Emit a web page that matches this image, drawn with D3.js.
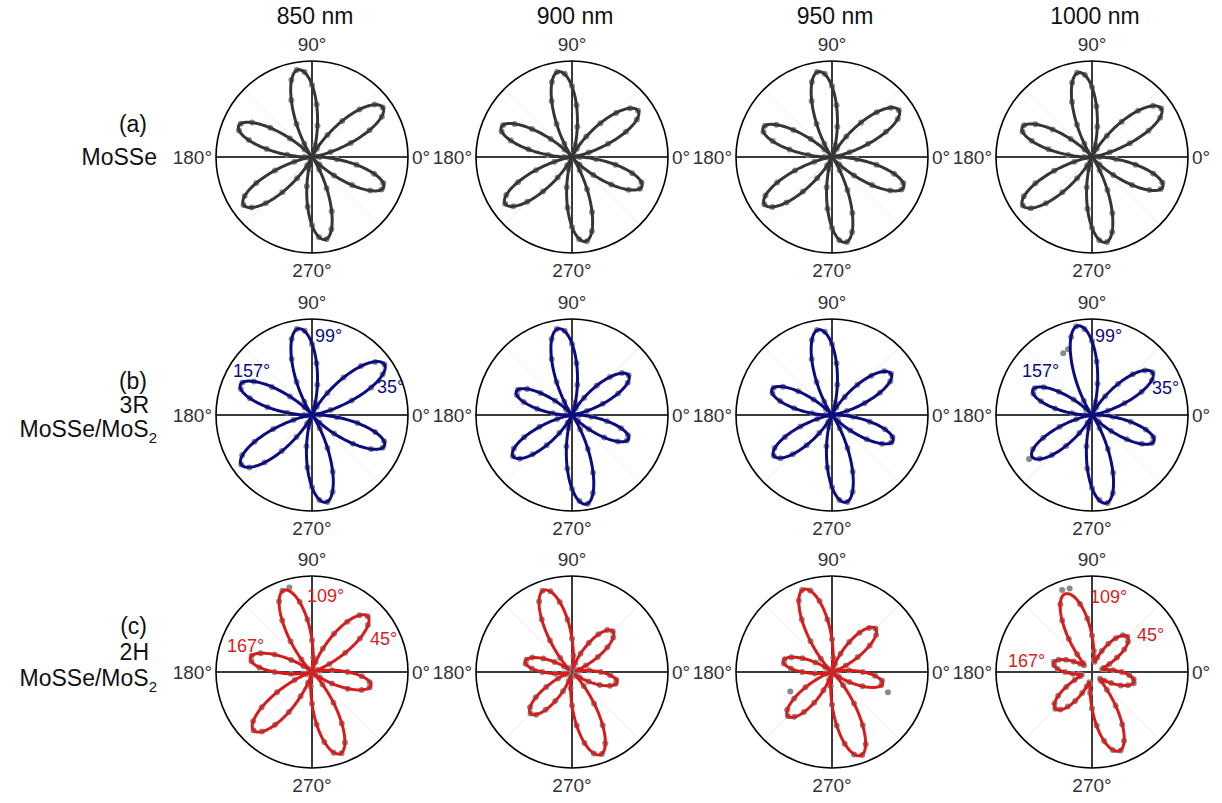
<!DOCTYPE html>
<html>
<head>
<meta charset="utf-8">
<script src="https://cdn.jsdelivr.net/npm/d3@7"></script>
<style>
  body { margin: 0; background: #fff; }
  svg { display: block; }
  text { font-family: "Liberation Sans", Arial, Helvetica, sans-serif; }
</style>
</head>
<body>
<svg id="chart" width="1222" height="803"></svg>
<script>
// ---- data ---------------------------------------------------------------
const wavelengths = ["850 nm", "900 nm", "950 nm", "1000 nm"];
const angleTicks = [0, 90, 180, 270];
const gridAngles = [45, 135, 225, 315];
const sampleAngles = d3.range(0, 360, 5);          // polarizer angle of each measured point (deg)

// fitted petal directions (deg) for each sample
const petalAnglesMoSSe = [35, 99, 157, 215, 279, 337];
const petalAngles3R    = [35, 99, 157, 215, 279, 337];
const petalAngles2H    = [45, 109, 167, 225, 289, 347];

// fitted petal lengths (normalised SHG intensity), one row per wavelength
const petalLengthsMoSSe = [
  [0.90, 0.92, 0.83, 0.87, 0.87, 0.81],
  [0.84, 0.90, 0.80, 0.85, 0.89, 0.79],
  [0.85, 0.90, 0.78, 0.86, 0.90, 0.81],
  [0.88, 0.89, 0.79, 0.88, 0.90, 0.80]
];
const petalLengths3R = [
  [0.92, 0.91, 0.81, 0.90, 0.92, 0.82],
  [0.72, 0.91, 0.63, 0.75, 0.94, 0.64],
  [0.75, 0.90, 0.68, 0.74, 0.92, 0.69],
  [0.77, 0.94, 0.67, 0.76, 0.93, 0.70]
];
const petalLengths2H = [
  [0.82, 0.90, 0.66, 0.86, 0.90, 0.63],
  [0.60, 0.90, 0.50, 0.61, 0.91, 0.48],
  [0.64, 0.91, 0.52, 0.65, 0.92, 0.54],
  [0.52, 0.86, 0.41, 0.54, 0.87, 0.45]
];
// residual intensity between petals
const floorMoSSe = [0, 0, 0, 0];
const floor3R    = [0, 0, 0, 0];
const floor2H    = [0.02, 0.04, 0.02, 0.11];

// measured SHG intensity at each polarizer angle
const dotsMoSSe850 = [.08,.00,
  .04,.20,.43,.66,.84,.90,.85,.70,.49,.28,.10,.01,
  .02,.13,.33,.55,.75,.89,.92,.83,.63,.38,.16,.02,
  .01,.11,.30,.53,.72,.82,.81,.68,.48,.26,.08,.00,
  .04,.19,.41,.64,.81,.87,.82,.68,.48,.27,.10,.01,
  .02,.13,.31,.52,.71,.84,.87,.78,.60,.36,.15,.02,
  .01,.11,.30,.51,.70,.80,.79,.67,.47,.26];
const dotsMoSSe900 = [.08,.00,
  .04,.18,.40,.62,.78,.84,.79,.65,.46,.26,.10,.01,
  .02,.13,.32,.54,.74,.87,.90,.81,.62,.38,.16,.02,
  .01,.11,.29,.51,.69,.79,.78,.66,.46,.25,.08,.00,
  .04,.19,.40,.62,.79,.85,.80,.66,.47,.26,.10,.01,
  .02,.13,.32,.53,.73,.86,.89,.80,.61,.37,.16,.02,
  .01,.11,.29,.50,.68,.78,.77,.65,.46,.25];
const dotsMoSSe950 = [.08,.00,
  .04,.19,.40,.62,.79,.85,.80,.66,.47,.26,.10,.01,
  .02,.13,.32,.54,.74,.87,.90,.81,.62,.38,.16,.02,
  .01,.11,.29,.49,.67,.77,.76,.64,.45,.25,.08,.00,
  .04,.19,.41,.63,.80,.86,.81,.67,.47,.27,.10,.01,
  .02,.13,.32,.54,.74,.87,.90,.81,.62,.38,.16,.02,
  .01,.11,.30,.51,.70,.80,.79,.67,.47,.26];
const dotsMoSSe1000 = [.08,.00,
  .04,.19,.42,.65,.82,.88,.83,.68,.48,.27,.10,.01,
  .02,.13,.32,.53,.73,.86,.89,.80,.61,.37,.16,.02,
  .01,.11,.29,.50,.68,.78,.77,.65,.46,.25,.08,.00,
  .04,.19,.42,.65,.82,.88,.83,.68,.48,.27,.10,.01,
  .02,.13,.32,.54,.74,.87,.90,.81,.62,.38,.16,.02,
  .01,.11,.29,.51,.69,.79,.78,.66,.46,.25];

const dots3R850 = [.08,.00,
  .04,.20,.44,.68,.85,.92,.86,.72,.51,.28,.10,.01,
  .02,.13,.32,.54,.74,.88,.91,.82,.62,.38,.16,.02,
  .01,.11,.30,.51,.70,.80,.79,.67,.47,.26,.08,.00,
  .04,.20,.43,.66,.84,.90,.85,.70,.49,.28,.10,.01,
  .02,.13,.33,.55,.75,.89,.92,.83,.63,.38,.16,.02,
  .01,.11,.30,.52,.71,.81,.80,.68,.48,.26];
const dots3R900 = [.07,.00,
  .03,.16,.34,.53,.67,.72,.68,.56,.40,.22,.08,.01,
  .02,.13,.32,.54,.74,.88,.91,.82,.62,.38,.16,.02,
  .01,.09,.23,.40,.54,.62,.61,.52,.37,.20,.06,.00,
  .03,.16,.36,.55,.70,.75,.71,.58,.41,.23,.09,.01,
  .02,.14,.33,.56,.77,.90,.94,.84,.64,.39,.17,.02,
  .01,.09,.23,.41,.55,.63,.62,.53,.37,.20];
const dots3R950 = [.07,.00,
  .03,.16,.36,.55,.70,.75,.71,.58,.41,.23,.09,.01,
  .02,.13,.32,.54,.74,.87,.90,.81,.62,.38,.16,.02,
  .01,.09,.25,.43,.59,.67,.66,.56,.40,.21,.07,.00,
  .03,.16,.35,.54,.69,.74,.70,.58,.41,.23,.08,.01,
  .02,.13,.33,.55,.75,.89,.92,.83,.63,.38,.16,.02,
  .01,.09,.25,.44,.60,.68,.67,.57,.40,.22];
const dots3R1000 = [.07,.00,
  .04,.17,.36,.57,.72,.77,.72,.60,.42,.24,.09,.01,
  .02,.14,.33,.56,.77,.90,.94,.84,.73,.71,.17,.02,
  .01,.09,.25,.42,.58,.66,.65,.55,.39,.21,.07,.00,
  .03,.17,.36,.56,.71,.80,.71,.59,.42,.23,.09,.01,
  .02,.14,.33,.56,.76,.89,.93,.84,.64,.39,.16,.02,
  .01,.10,.26,.44,.60,.69,.68,.58,.41,.22];

const dots2H850 = [.37,.21,.08,.02,
  .06,.20,.40,.61,.76,.82,.77,.64,.46,.27,.11,.03,
  .04,.15,.33,.55,.74,.91,.90,.81,.62,.39,.17,.04,
  .03,.11,.25,.43,.57,.65,.64,.55,.39,.22,.09,.02,
  .06,.20,.42,.64,.80,.86,.81,.67,.48,.28,.12,.03,
  .04,.15,.33,.55,.74,.87,.90,.81,.62,.39,.17,.04,
  .03,.10,.24,.41,.55,.62,.61,.52];
const dots2H900 = [.30,.18,.08,.04,
  .07,.16,.31,.45,.56,.60,.57,.48,.35,.21,.10,.05,
  .06,.17,.35,.55,.74,.87,.90,.81,.63,.40,.19,.06,
  .05,.10,.21,.33,.44,.49,.49,.42,.31,.18,.09,.04,
  .07,.16,.31,.46,.57,.61,.58,.48,.35,.22,.10,.05,
  .06,.17,.35,.56,.75,.88,.91,.82,.64,.40,.19,.06,
  .05,.10,.20,.32,.42,.47,.47,.40];
const dots2H950 = [.32,.18,.07,.02,
  .05,.16,.31,.48,.60,.64,.60,.50,.36,.21,.09,.03,
  .04,.15,.34,.55,.75,.88,.91,.82,.63,.39,.18,.04,
  .03,.09,.20,.34,.45,.51,.51,.43,.31,.18,.07,.02,
  .05,.48,.32,.48,.61,.65,.61,.51,.37,.21,.09,.03,
  .04,.15,.34,.56,.76,.89,.92,.83,.64,.40,.18,.04,
  .03,.09,.21,.35,.62,.53,.53,.45];
const dots2H1000 = [.31,.22,.15,.11,
  .13,.20,.30,.41,.49,.52,.50,.43,.34,.24,.16,.11,
  .13,.22,.38,.56,.72,.90,.91,.78,.62,.42,.24,.13,
  .11,.15,.22,.30,.37,.41,.40,.36,.28,.20,.14,.11,
  .13,.20,.31,.43,.51,.54,.51,.44,.35,.24,.16,.11,
  .13,.22,.38,.56,.73,.84,.87,.79,.63,.43,.24,.13,
  .11,.16,.23,.33,.40,.45,.44,.39];

// ---- layout -------------------------------------------------------------
const R = 96;
const colX = [312, 572, 832, 1092];
const rowY = [157, 415, 672];

const rows = [
  {
    tag: "(a)", lines: [["MoSSe", null]],
    angles: petalAnglesMoSSe, lengths: petalLengthsMoSSe, floors: floorMoSSe,
    dots: [dotsMoSSe850, dotsMoSSe900, dotsMoSSe950, dotsMoSSe1000],
    color: "#363636", notes: {}
  },
  {
    tag: "(b)", lines: [["3R", null], ["MoSSe/MoS", "2"]],
    angles: petalAngles3R, lengths: petalLengths3R, floors: floor3R,
    dots: [dots3R850, dots3R900, dots3R950, dots3R1000],
    color: "#0c0c82",
    // petal index -> [x offset of text start, baseline offset]
    notes: {
      0: [[1, 3, -73], [2, -79, -38], [0, 65, -22]],
      3: [[1, 3, -73], [2, -70, -38], [0, 60, -21]]
    }
  },
  {
    tag: "(c)", lines: [["2H", null], ["MoSSe/MoS", "2"]],
    angles: petalAngles2H, lengths: petalLengths2H, floors: floor2H,
    dots: [dots2H850, dots2H900, dots2H950, dots2H1000],
    color: "#d81c1c",
    notes: {
      0: [[1, -5, -70], [0, 58, -27], [2, -85, -20]],
      3: [[1, -2, -69], [0, 45, -31], [2, -84, -5]]
    }
  }
];

// row label placement: [right edge, baseline] for tag and each line
const rowLabelPos = [
  { tag: [147, 132], lines: [[157, 165]] },
  { tag: [147, 389], lines: [[149, 413], [157, 437]] },
  { tag: [147, 634], lines: [[149, 660], [157, 686]] }
];

// ---- scales -------------------------------------------------------------
const rScale = d3.scaleLinear().domain([0, 1]).range([0, R]);
// polar angle in degrees, counter-clockwise from +x
const aScale = d3.scaleLinear().domain([0, 360]).range([Math.PI / 2, Math.PI / 2 - 2 * Math.PI]);

// fitted six-lobe pattern: each lobe is a cos^2 petal spanning half the gap to its neighbours
function fitRadius(theta, angles, lengths, floor) {
  const n = angles.length;
  const rel = angles.map(a => a - angles[0]).concat([360]);
  const t = (((theta - angles[0]) % 360) + 360) % 360;
  let k = 0;
  while (k < n - 1 && t >= rel[k + 1]) k++;
  const h = (rel[k + 1] - rel[k]) / 2;
  const d = t - rel[k];
  let f, L;
  if (d < h) { f = Math.cos(Math.PI / 2 * d / h) ** 2; L = lengths[k]; }
  else { f = Math.cos(Math.PI / 2 * (rel[k + 1] - t) / h) ** 2; L = lengths[(k + 1) % n]; }
  return floor + (L - floor) * f;
}

const svg = d3.select("#chart");

// column titles
svg.selectAll("text.col-title")
  .data(wavelengths)
  .join("text")
  .attr("class", "col-title")
  .attr("x", (d, i) => colX[i] + 3)
  .attr("y", 24)
  .attr("text-anchor", "middle")
  .attr("font-size", 23)
  .attr("fill", "#111")
  .text(d => d);

// row labels
rows.forEach((row, ri) => {
  const pos = rowLabelPos[ri];
  svg.append("text")
    .attr("x", pos.tag[0]).attr("y", pos.tag[1])
    .attr("text-anchor", "end").attr("font-size", 23).attr("fill", "#111")
    .text(row.tag);
  row.lines.forEach((ln, li) => {
    const t = svg.append("text")
      .attr("x", pos.lines[li][0]).attr("y", pos.lines[li][1])
      .attr("text-anchor", "end").attr("font-size", 23).attr("fill", "#111");
    t.append("tspan").text(ln[0]);
    if (ln[1]) t.append("tspan").attr("font-size", 15).attr("dy", 6).text(ln[1]);
  });
});

const fitAngles = d3.range(0, 360, 0.5);

rows.forEach((row, ri) => {
  wavelengths.forEach((wl, ci) => {
    const g = svg.append("g").attr("transform", `translate(${colX[ci]},${rowY[ri]})`);

    // faint diagonal grid
    g.selectAll("line.grid").data(gridAngles).join("line")
      .attr("class", "grid")
      .attr("x1", 0).attr("y1", 0)
      .attr("x2", a => d3.pointRadial(aScale(a), R)[0])
      .attr("y2", a => d3.pointRadial(aScale(a), R)[1])
      .attr("stroke", "#ebebeb").attr("stroke-width", 1);

    // axes through the origin
    g.append("line").attr("x1", -R).attr("x2", R).attr("y1", 0).attr("y2", 0)
      .attr("stroke", "#3a3a3a").attr("stroke-width", 2);
    g.append("line").attr("x1", 0).attr("x2", 0).attr("y1", -R).attr("y2", R)
      .attr("stroke", "#3a3a3a").attr("stroke-width", 2);

    // outer ring
    g.append("circle").attr("r", rScale(1)).attr("fill", "none")
      .attr("stroke", "#000").attr("stroke-width", 1.6);

    // measured points
    const vals = row.dots[ci];
    g.selectAll("circle.pt").data(sampleAngles.map((a, i) => [a, vals[i]])).join("circle")
      .attr("class", "pt")
      .attr("cx", d => d3.pointRadial(aScale(d[0]), rScale(d[1]))[0])
      .attr("cy", d => d3.pointRadial(aScale(d[0]), rScale(d[1]))[1])
      .attr("r", 3)
      .attr("fill", "#8a8a8a");

    // fit curve
    const fitLine = d3.lineRadial()
      .angle(d => aScale(d))
      .radius(d => rScale(fitRadius(d, row.angles, row.lengths[ci], row.floors[ci])))
      .curve(d3.curveLinearClosed);
    g.append("path").attr("d", fitLine(fitAngles))
      .attr("fill", "none").attr("stroke", row.color)
      .attr("stroke-width", 3).attr("stroke-linejoin", "round");

    // angular tick labels
    const lab = g.append("g").attr("font-size", 19).attr("fill", "#333");
    lab.append("text").attr("x", 0).attr("y", -R - 10).attr("text-anchor", "middle")
      .text(angleTicks[1] + "°");
    lab.append("text").attr("x", 0).attr("y", R + 24).attr("text-anchor", "middle")
      .text(angleTicks[3] + "°");
    lab.append("text").attr("x", R + 4).attr("y", 7).attr("text-anchor", "start")
      .text(angleTicks[0] + "°");
    lab.append("text").attr("x", -R - 4).attr("y", 7).attr("text-anchor", "end")
      .text(angleTicks[2] + "°");

    // petal direction annotations
    (row.notes[ci] || []).forEach(([pi, dx, dy]) => {
      g.append("text").attr("x", dx).attr("y", dy)
        .attr("font-size", 18).attr("fill", row.color)
        .text(row.angles[pi] + "°");
    });
  });
});
</script>
</body>
</html>
